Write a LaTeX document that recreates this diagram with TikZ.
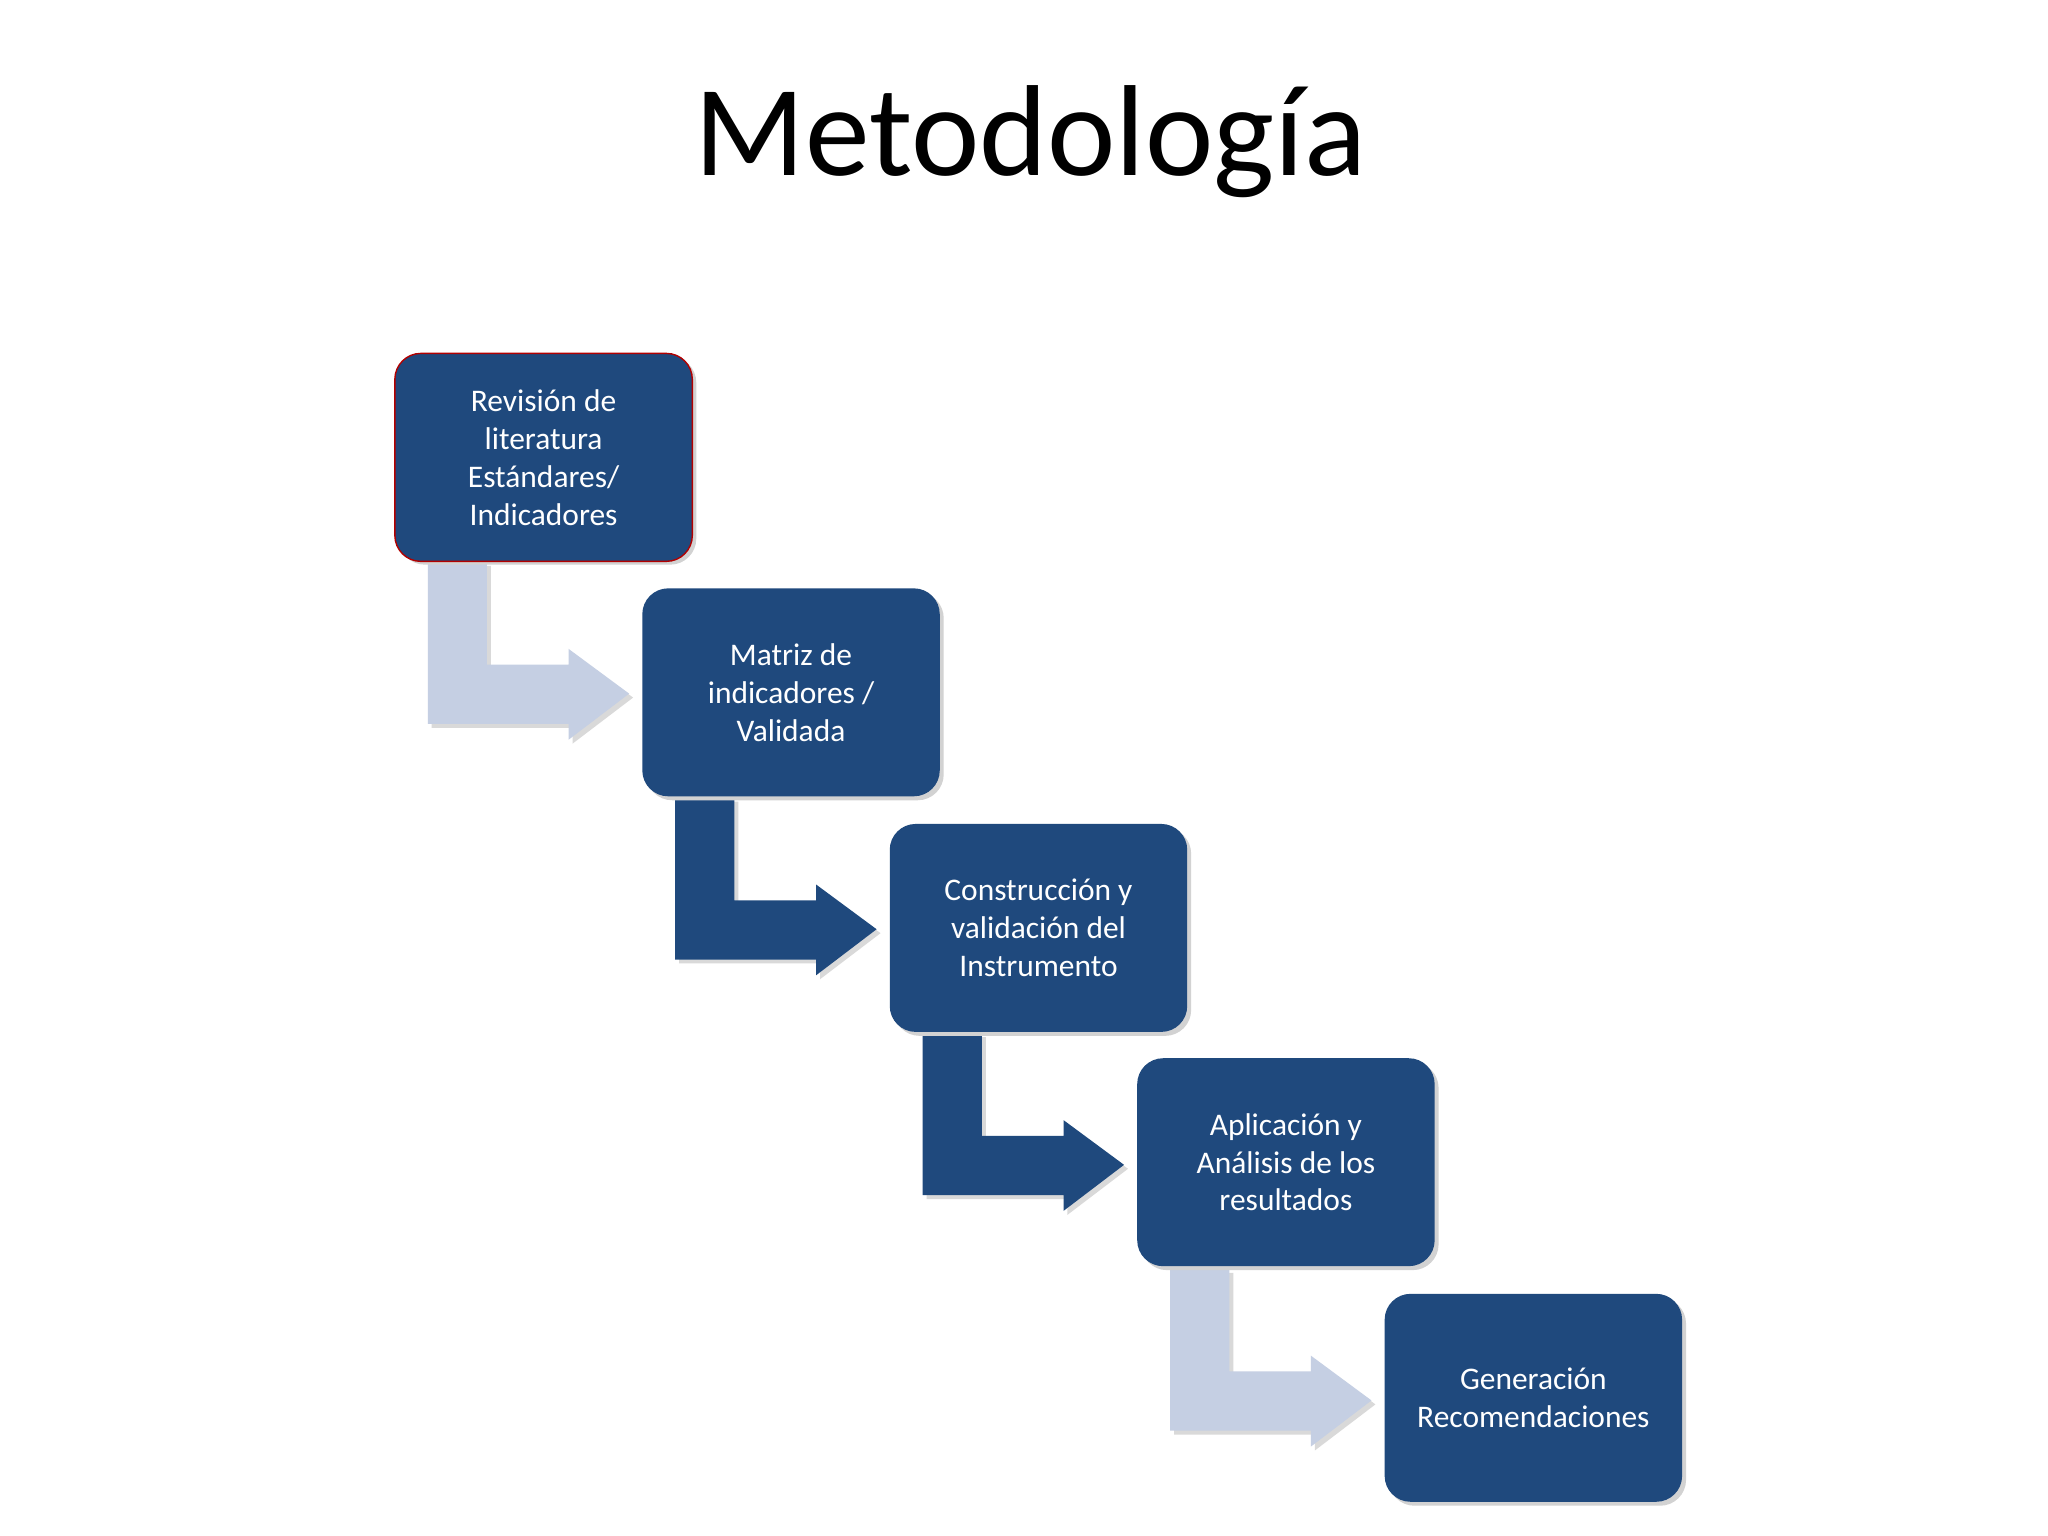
\documentclass[tikz,border=0pt]{standalone}
\usepackage{fontspec}
\setmainfont{Carlito}
\begin{document}
\begin{tikzpicture}[x=0.05cm,y=-0.05cm]
\definecolor{boxblue}{HTML}{1F497D}
\definecolor{lightarr}{HTML}{C5CFE3}
\tikzset{
 stepbox/.style={fill=boxblue,rounded corners=28pt,text=white,align=center,
   font=\fontsize{34}{41}\selectfont,minimum width=226*0.05cm,minimum height=158*0.05cm,
   inner sep=0pt,drop shadow/.style={}},
 bent/.style={draw=none},
}
\useasboundingbox (0,0) rectangle (1556,1167);
\fill[white] (0,0) rectangle (1556,1167);
\node[font=\fontsize{140}{150}\selectfont] (title) at (783,108) {Metodología};
% arrows
\foreach \i/\c in {0/lightarr,1/boxblue,2/boxblue,3/lightarr}{
 \begin{scope}[shift={(188*\i,179*\i)}]
  \fill[gray!30] (328,430) -- (373,430) -- (373,508) -- (435,508) -- (435,496) -- (481,530) -- (435,565) -- (435,553) -- (328,553) -- cycle;
  \fill[\c] (325,427) -- (370,427) -- (370,505) -- (432,505) -- (432,493) -- (478,527) -- (432,562) -- (432,550) -- (325,550) -- cycle;
 \end{scope}}
% boxes
\foreach \x/\y/\n in {300/268/b1,488/447/b2,676/626/b3,864/804/b4,1052/983/b5}{
  \fill[gray!35,rounded corners=28pt] (\x+3,\y+3) rectangle (\x+229,\y+161);
}
\node[stepbox,draw=red!70!black,line width=1.5pt] (b1) at (413,347.5) {Revisión de\\literatura\\Estándares/\\Indicadores};
\node[stepbox] (b2) at (601,526) {Matriz de\\indicadores /\\Validada};
\node[stepbox] (b3) at (789,705) {Construcción y\\validación del\\Instrumento};
\node[stepbox] (b4) at (977,883) {Aplicación y\\Análisis de los\\resultados};
\node[stepbox] (b5) at (1165,1062) {Generación\\Recomendaciones};
\end{tikzpicture}
\end{document}
